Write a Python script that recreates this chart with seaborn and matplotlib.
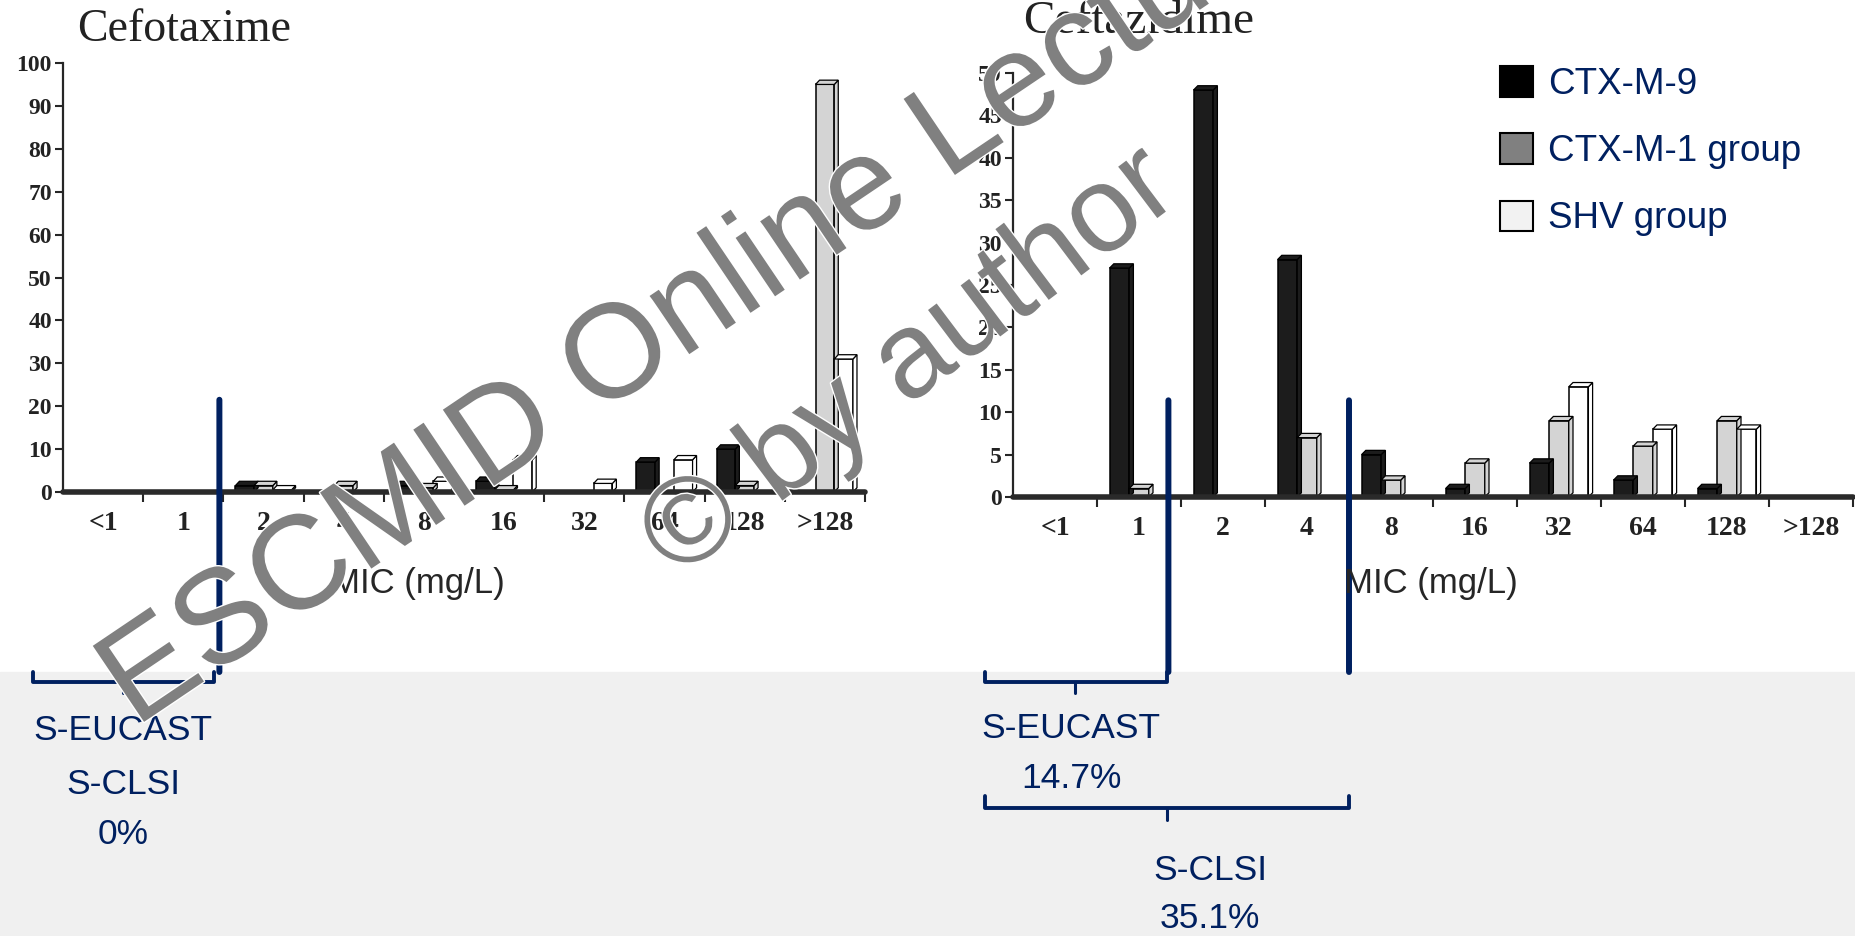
import pandas as pd
import seaborn as sns
import matplotlib.pyplot as plt
from matplotlib.patches import Patch, Rectangle, Polygon
from matplotlib.lines import Line2D
import matplotlib.patheffects as PathEffects

sns.set_style('ticks')
plt.rcParams['font.family'] = ['Liberation Sans', 'DejaVu Sans']

W, H = 1855, 936
NAVY = '#002060'

# ----- data (% of isolates per MIC) -----
MIC = ['<1', '1', '2', '4', '8', '16', '32', '64', '128', '>128']
GROUPS = ['CTX-M-9', 'CTX-M-1 group', 'SHV group']

ctx_ctxm9 = [0, 0, 1.5, 0, 1.5, 2.5, 0, 7, 10, 0]
ctx_ctxm1 = [0, 0, 1.5, 1.5, 1, 0.5, 0, 0, 1.5, 95]
ctx_shv = [0, 0, 0.5, 0, 2.5, 7.5, 2, 7.5, 0, 31]

caz_ctxm9 = [0, 27, 48, 28, 5, 1, 4, 2, 1, 0]
caz_ctxm1 = [0, 1, 0, 7, 2, 4, 9, 6, 9, 0]
caz_shv = [0, 0, 0, 0, 0, 0, 13, 8, 8, 0]

# breakpoints (position between MIC categories)
ctx_breaks = [1.45]
caz_breaks = [1.35, 3.5]

BAR_COLORS = ['#1c1c1c', '#d4d4d4', '#ffffff']
LEGEND_COLORS = ['#000000', '#808080', '#f2f2f2']


def long_df(a, b, c):
    rows = []
    for grp, vals in zip(GROUPS, [a, b, c]):
        for m, v in zip(MIC, vals):
            rows.append({'MIC': m, 'pct': v, 'group': grp})
    return pd.DataFrame(rows)


def px(x, y):
    return x / W, 1 - y / H


def add_depth(ax, dx, dy):
    # fake 3D look: a cap and a side face on every drawn bar
    for bar in list(ax.patches):
        x, w, h = bar.get_x(), bar.get_width(), bar.get_height()
        if h <= 0:
            continue
        fc = bar.get_facecolor()
        top = [(x, h), (x + dx, h + dy), (x + w + dx, h + dy), (x + w, h)]
        side = [(x + w, 0), (x + w, h), (x + w + dx, h + dy), (x + w + dx, dy)]
        for pts in (side, top):
            ax.add_patch(Polygon(pts, closed=True, facecolor=fc,
                                 edgecolor='black', linewidth=0.9, zorder=bar.get_zorder()))


fig = plt.figure(figsize=(W / 100, H / 100), dpi=100, facecolor='white')

# grey band at the bottom of the slide
fig.add_artist(Rectangle((0, 0), 1, 1 - 672 / H, transform=fig.transFigure,
                         color='#f0f0f0', zorder=-10))

ax1 = fig.add_axes([63 / W, 1 - 492 / H, (865 - 63) / W, (492 - 63) / H])
ax2 = fig.add_axes([1013 / W, 1 - 497 / H, (1853 - 1013) / W, (497 - 73) / H])

panels = [
    (ax1, long_df(ctx_ctxm9, ctx_ctxm1, ctx_shv), 100, 10, ctx_breaks, 21.5),
    (ax2, long_df(caz_ctxm9, caz_ctxm1, caz_shv), 50, 5, caz_breaks, 11.4),
]

for ax, df, ymax, ystep, breaks, btop in panels:
    sns.barplot(
        data=df, x='MIC', y='pct', hue='group',
        order=MIC, hue_order=GROUPS, palette=BAR_COLORS,
        edgecolor='black', linewidth=1.1, width=0.7, gap=0,
        legend=False, ax=ax,
    )
    add_depth(ax, 0.05, ymax * 0.01)
    ax.set_facecolor('none')
    ax.set_xlim(-0.5, len(MIC) - 0.5)
    ax.set_ylim(0, ymax)
    ax.set_yticks(range(0, ymax + 1, ystep))
    ax.set_xticks(range(len(MIC)))
    ax.set_xticks([i + 0.5 for i in range(len(MIC))], minor=True)
    ax.set_xlabel('')
    ax.set_ylabel('')
    ax.tick_params(axis='x', which='major', length=0, pad=14)
    ax.tick_params(axis='x', which='minor', length=7, width=1.5, direction='out')
    ax.tick_params(axis='y', length=6, width=1.5, pad=2)
    for lab in ax.get_xticklabels():
        lab.set_fontfamily('Liberation Serif')
        lab.set_fontsize(20)
        lab.set_fontweight('bold')
        lab.set_color('#222222')
    for lab in ax.get_yticklabels():
        lab.set_fontfamily('Liberation Serif')
        lab.set_fontsize(17)
        lab.set_fontweight('bold')
        lab.set_color('#222222')
    sns.despine(ax=ax)
    ax.spines['left'].set_linewidth(1.6)
    ax.spines['bottom'].set_linewidth(1.6)
    ax.axhline(0, color='#2a2a2a', lw=4, zorder=5, clip_on=False)

    # breakpoint lines, running down into the grey band
    for b in breaks:
        ax.annotate('', xy=(b, btop), xycoords='data',
                    xytext=(b, 1 - 672 / H), textcoords=('data', 'figure fraction'),
                    arrowprops=dict(arrowstyle='-', color=NAVY, lw=4.3,
                                    shrinkA=0, shrinkB=0),
                    annotation_clip=False, zorder=6)

# titles
fig.text(*px(77, 30), 'Cefotaxime', family='Liberation Serif', fontsize=33,
         ha='left', va='center', color='#222222')
fig.text(*px(1023, 22), 'Ceftazidime', family='Liberation Serif', fontsize=34,
         ha='left', va='center', color='#222222')

# axis labels
fig.text(*px(418, 583), 'MIC (mg/L)', fontsize=25, ha='center', va='center')
fig.text(*px(1431, 583), 'MIC (mg/L)', fontsize=25, ha='center', va='center')

# legend
handles = [Patch(facecolor=c, edgecolor='black', linewidth=1.5, label=g)
           for c, g in zip(LEGEND_COLORS, GROUPS)]
fig.legend(handles=handles, loc='upper left', bbox_to_anchor=px(1500, 66),
           frameon=False, fontsize=26.5, labelcolor=NAVY, borderaxespad=0,
           borderpad=0, handlelength=0.9, handleheight=0.9,
           handletextpad=0.4, labelspacing=0.85)


# brackets under the breakpoints
def bracket(x0, x1, ytop, ybar, ytick, xmid=None):
    xmid = (x0 + x1) / 2 if xmid is None else xmid
    xs = [x0, x0, x1, x1]
    ys = [ytop, ybar, ybar, ytop]
    fig.add_artist(Line2D([px(x, y)[0] for x, y in zip(xs, ys)],
                          [px(x, y)[1] for x, y in zip(xs, ys)],
                          color=NAVY, lw=2.8, transform=fig.transFigure))
    fig.add_artist(Line2D([px(xmid, ybar)[0]] * 2,
                          [px(xmid, ybar)[1], px(xmid, ytick)[1]],
                          color=NAVY, lw=2.2, transform=fig.transFigure))


bracket(33, 214, 672, 682, 693, xmid=123)
bracket(985, 1167, 672, 682, 693, xmid=1075)
bracket(985, 1349, 796, 808, 820, xmid=1167)

txt = dict(fontsize=25.5, color=NAVY, ha='center', va='center')
fig.text(*px(123, 731), 'S-EUCAST', **txt)
fig.text(*px(123, 784), 'S-CLSI', **txt)
fig.text(*px(123, 835), '0%', **txt)
fig.text(*px(1071, 728), 'S-EUCAST', **txt)
fig.text(*px(1071, 779), '14.7%', **txt)
fig.text(*px(1210, 871), 'S-CLSI', **txt)
fig.text(*px(1210, 918), '35.1%', **txt)

# watermark
stroke = [PathEffects.withStroke(linewidth=2, foreground='white')]
fig.text(*px(135, 728), 'ESCMID Online Lecture Library', fontsize=96,
         color='#808080', rotation=34, rotation_mode='anchor', ha='left',
         va='baseline', zorder=20, path_effects=stroke)
fig.text(*px(677, 580), '\u00a9 by author', fontsize=88,
         color='#808080', rotation=37, rotation_mode='anchor', ha='left',
         va='baseline', zorder=20, path_effects=stroke)

fig.savefig('out.png', dpi=100)
